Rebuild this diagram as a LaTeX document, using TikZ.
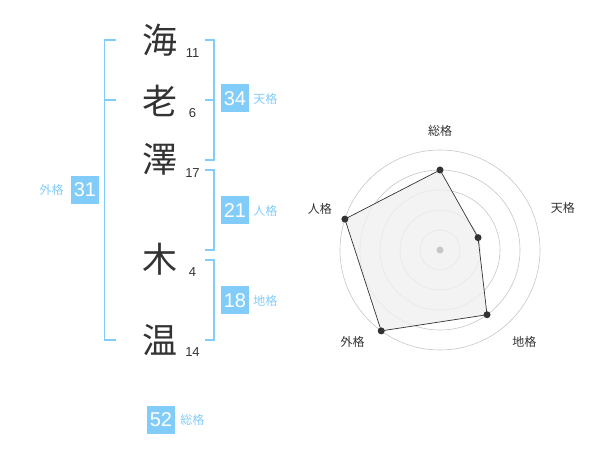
\documentclass[tikz,border=0pt]{standalone}
\usepackage{fontspec}
\setmainfont{Liberation Sans}
\newfontfamily\jp{Noto Sans CJK JP}
\usetikzlibrary{positioning}
\definecolor{skyb}{RGB}{130,204,250}
\definecolor{ink}{RGB}{51,51,51}

\begin{document}
\begin{tikzpicture}[x=1pt,y=-1pt,
    kanji/.style={font=\jp\fontsize{35}{35}\selectfont,text=ink,inner sep=0pt},
    num/.style={font=\fontsize{13}{13}\selectfont,text=ink,inner sep=0pt},
    score/.style={fill=skyb,text=white,font=\fontsize{20}{20}\selectfont,
                  minimum width=28pt,minimum height=28pt,inner sep=0pt},
    lab/.style={font=\jp\fontsize{12}{12}\selectfont,text=skyb,inner sep=0pt},
    brk/.style={draw=skyb,line width=1.6pt},
    axlab/.style={font=\jp\fontsize{12}{12}\selectfont,text=ink,inner sep=0pt}]
  \useasboundingbox (0,0) rectangle (600,470);

  % name
  \node[kanji] (c1) at (160,40)  {海};
  \node[kanji] (c2) at (160,101) {老};
  \node[kanji] (c3) at (160,159) {澤};
  \node[kanji] (c4) at (160,259) {木};
  \node[kanji] (c5) at (160,340) {温};
  \node[num] (n1) at (192.5,53)  {11};
  \node[num] (n2) at (192.5,113) {6};
  \node[num] (n3) at (192.5,173) {17};
  \node[num] (n4) at (192.5,272) {4};
  \node[num] (n5) at (192.5,352) {14};

  % brackets
  \draw[brk] (116,40) -- (104.5,40) -- (104.5,340) -- (116,340);
  \draw[brk] (104.5,100) -- (116,100);
  \draw[brk] (205,40) -- (214,40) -- (214,160) -- (205,160);
  \draw[brk] (205,100) -- (214,100);
  \draw[brk] (205,170) -- (214,170) -- (214,250) -- (205,250);
  \draw[brk] (205,260) -- (214,260) -- (214,340) -- (205,340);

  % scores
  \node[score] (ten) at (235,98.5)  {34};
  \node[score] (jin) at (235,210.5) {21};
  \node[score] (chi) at (235,300.5) {18};
  \node[score] (gai) at (85,190)    {31};
  \node[score] (sou) at (161,419.5) {52};
  \node[lab,right=4pt of ten] (tenl) {天格};
  \node[lab,right=4pt of jin] (jinl) {人格};
  \node[lab,right=4pt of chi] (chil) {地格};
  \node[lab,left=7pt of gai]  (gail) {外格};
  \node[lab,right=5pt of sou] (soul) {総格};

  % radar
  \begin{scope}[shift={(440,250)},yscale=-1]
    \foreach \r in {20,40,60,80,100}
      \draw[black!22,line width=0.6pt] (0,0) circle (\r);
    \coordinate (p1) at (90:80);
    \coordinate (p2) at (18:40);
    \coordinate (p3) at (-54:80);
    \coordinate (p4) at (-126:100);
    \coordinate (p5) at (162:100);
    \filldraw[fill=black!6,fill opacity=0.8,draw=ink,line width=0.7pt]
      (p1) -- (p2) -- (p3) -- (p4) -- (p5) -- cycle;
    \foreach \p in {p1,p2,p3,p4,p5}
      \fill[ink] (\p) circle (3.5);
    \fill[black!22] (0,0) circle (3.5);
    \node[axlab] (a1) at (90:119)    {総格};
    \node[axlab] (a2) at (19:130)    {天格};
    \node[axlab] (a3) at (-47.5:125) {地格};
    \node[axlab] (a4) at (-133.5:127){外格};
    \node[axlab] (a5) at (161:127)   {人格};
  \end{scope}
\end{tikzpicture}
\end{document}
